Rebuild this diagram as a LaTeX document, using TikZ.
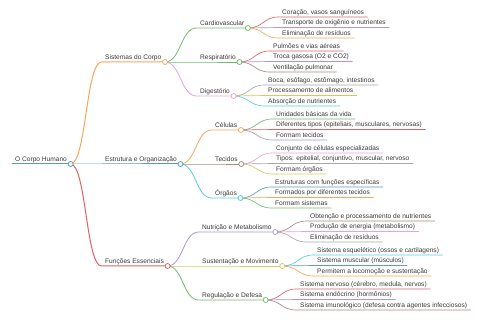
\documentclass[tikz,border=0pt]{standalone}
\usepackage{fontspec}
\setmainfont{Liberation Sans}
\usetikzlibrary{calc}
\pgfdeclarelayer{bg}
\pgfsetlayers{bg,main}
\definecolor{cblue}{HTML}{5A9BCB}
\definecolor{corange}{HTML}{F8A65C}
\definecolor{cgreen}{HTML}{6DBE6D}
\definecolor{cred}{HTML}{DD6465}
\definecolor{cpurple}{HTML}{AC97D2}
\definecolor{cbrown}{HTML}{AB8780}
\definecolor{cpink}{HTML}{EBA2D5}
\definecolor{cgray}{HTML}{A8A8A8}
\definecolor{colive}{HTML}{CDCE5E}
\definecolor{ccyan}{HTML}{57CFDC}
\definecolor{txt}{HTML}{3A3A3A}
\begin{document}
\begin{tikzpicture}[x=1pt,y=-1pt,
  lbl/.style={anchor=south west, inner xsep=3.5pt, inner ysep=0.8pt, text height=4.8pt, text depth=1.5pt, font=\fontsize{6.6}{7.5}\selectfont, text=txt},
  dot/.style={circle, draw=#1, fill=white, line width=0.75pt, minimum size=5pt, inner sep=0pt},
  lA/.style={draw=#1, line width=1pt},
  lB/.style={draw=#1, line width=0.8pt},
  lC/.style={draw=#1, line width=0.65pt},
  link/.style={to path={let \p1=(\tikztostart), \p2=(\tikztotarget), \n1={(\x2-\x1)/2} in .. controls +(\n1,0) and +(-\n1,0) .. (\tikztotarget)}}
]
\useasboundingbox (0,0) rectangle (480,320);

% root and level 1
\node[lbl] (root) at (11.5,164) {O Corpo Humano};
\node[lbl] (s) at (101.5,62) {Sistemas do Corpo};
\node[lbl] (e) at (101.5,164) {Estrutura e Organização};
\node[lbl] (f) at (101.5,266) {Funções Essenciais};

% level 2
\node[lbl] (s1) at (196.5,28) {Cardiovascular};
\node[lbl] (s2) at (196.5,62) {Respiratório};
\node[lbl] (s3) at (196.5,96) {Digestório};
\node[lbl] (e1) at (211.5,130) {Células};
\node[lbl] (e2) at (211.5,164) {Tecidos};
\node[lbl] (e3) at (211.5,198) {Órgãos};
\node[lbl] (f1) at (198.5,232) {Nutrição e Metabolismo};
\node[lbl] (f2) at (198.5,266) {Sustentação e Movimento};
\node[lbl] (f3) at (198.5,300) {Regulação e Defesa};

% leaves
\node[lbl] (s1a) at (278.5,17) {Coração, vasos sanguíneos};
\node[lbl] (s1b) at (278.5,27.5) {Transporte de oxigênio e nutrientes};
\node[lbl] (s1c) at (278.5,38) {Eliminação de resíduos};
\node[lbl] (s2a) at (269.5,51) {Pulmões e vias aéreas};
\node[lbl] (s2b) at (269.5,61.5) {Troca gasosa (O2 e CO2)};
\node[lbl] (s2c) at (269.5,72) {Ventilação pulmonar};
\node[lbl] (s3a) at (264.5,85) {Boca, esôfago, estômago, intestinos};
\node[lbl] (s3b) at (264.5,95.5) {Processamento de alimentos};
\node[lbl] (s3c) at (264.5,106) {Absorção de nutrientes};
\node[lbl] (e1a) at (272.5,119) {Unidades básicas da vida};
\node[lbl] (e1b) at (272.5,129.5) {Diferentes tipos (epiteliais, musculares, nervosas)};
\node[lbl] (e1c) at (272.5,140) {Formam tecidos};
\node[lbl] (e2a) at (272.5,153) {Conjunto de células especializadas};
\node[lbl] (e2b) at (272.5,163.5) {Tipos: epitelial, conjuntivo, muscular, nervoso};
\node[lbl] (e2c) at (272.5,174) {Formam órgãos};
\node[lbl] (e3a) at (271.5,187) {Estruturas com funções específicas};
\node[lbl] (e3b) at (271.5,197.5) {Formados por diferentes tecidos};
\node[lbl] (e3c) at (271.5,208) {Formam sistemas};
\node[lbl] (f1a) at (306.5,221) {Obtenção e processamento de nutrientes};
\node[lbl] (f1b) at (306.5,231.5) {Produção de energia (metabolismo)};
\node[lbl] (f1c) at (306.5,242) {Eliminação de resíduos};
\node[lbl] (f2a) at (313.5,255) {Sistema esquelético (ossos e cartilagens)};
\node[lbl] (f2b) at (313.5,265.5) {Sistema muscular (músculos)};
\node[lbl] (f2c) at (313.5,276) {Permitem a locomoção e sustentação};
\node[lbl] (f3a) at (296.5,289) {Sistema nervoso (cérebro, medula, nervos)};
\node[lbl] (f3b) at (296.5,299.5) {Sistema endócrino (hormônios)};
\node[lbl] (f3c) at (296.5,310) {Sistema imunológico (defesa contra agentes infecciosos)};

% circles
\node[dot=cblue] (root-c) at (root.south east) {};
\node[dot=corange] (s-c) at (s.south east) {};
\node[dot=cblue] (e-c) at (e.south east) {};
\node[dot=cred] (f-c) at (f.south east) {};
\node[dot=cgreen] (s1-c) at (s1.south east) {};
\node[dot=cgreen] (s2-c) at (s2.south east) {};
\node[dot=cpink] (s3-c) at (s3.south east) {};
\node[dot=corange] (e1-c) at (e1.south east) {};
\node[dot=cbrown] (e2-c) at (e2.south east) {};
\node[dot=ccyan] (e3-c) at (e3.south east) {};
\node[dot=cpurple] (f1-c) at (f1.south east) {};
\node[dot=colive] (f2-c) at (f2.south east) {};
\node[dot=cgreen] (f3-c) at (f3.south east) {};

\begin{pgfonlayer}{bg}
\fill[white] (0,0) rectangle (480,320);
% root
\draw[lA=cblue] (root.south west) -- (root.south east);
% level 1
\draw[lA=corange] (root-c.center) to[link] (s.south west) -- (s.south east);
\draw[lA=cblue] (root-c.center) to[link] (e.south west) -- (e.south east);
\draw[lA=cred] (root-c.center) to[link] (f.south west) -- (f.south east);
% level 2
\draw[lB=cgreen] (s-c.center) to[link] (s1.south west) -- (s1.south east);
\draw[lB=cgreen] (s-c.center) to[link] (s2.south west) -- (s2.south east);
\draw[lB=cpink] (s-c.center) to[link] (s3.south west) -- (s3.south east);
\draw[lB=corange] (e-c.center) to[link] (e1.south west) -- (e1.south east);
\draw[lB=cbrown] (e-c.center) to[link] (e2.south west) -- (e2.south east);
\draw[lB=ccyan] (e-c.center) to[link] (e3.south west) -- (e3.south east);
\draw[lB=cpurple] (f-c.center) to[link] (f1.south west) -- (f1.south east);
\draw[lB=colive] (f-c.center) to[link] (f2.south west) -- (f2.south east);
\draw[lB=cgreen] (f-c.center) to[link] (f3.south west) -- (f3.south east);
% leaves
\draw[lC=cred] (s1-c.center) to[link] (s1a.south west) -- (s1a.south east);
\draw[lC=cpurple] (s1-c.center) to[link] (s1b.south west) -- (s1b.south east);
\draw[lC=corange] (s1-c.center) to[link] (s1c.south west) -- (s1c.south east);
\draw[lC=cred] (s2-c.center) to[link] (s2a.south west) -- (s2a.south east);
\draw[lC=cpurple] (s2-c.center) to[link] (s2b.south west) -- (s2b.south east);
\draw[lC=cbrown] (s2-c.center) to[link] (s2c.south west) -- (s2c.south east);
\draw[lC=cgray] (s3-c.center) to[link] (s3a.south west) -- (s3a.south east);
\draw[lC=colive] (s3-c.center) to[link] (s3b.south west) -- (s3b.south east);
\draw[lC=ccyan] (s3-c.center) to[link] (s3c.south west) -- (s3c.south east);
\draw[lC=cgreen] (e1-c.center) to[link] (e1a.south west) -- (e1a.south east);
\draw[lC=cred] (e1-c.center) to[link] (e1b.south west) -- (e1b.south east);
\draw[lC=cpurple] (e1-c.center) to[link] (e1c.south west) -- (e1c.south east);
\draw[lC=cpink] (e2-c.center) to[link] (e2a.south west) -- (e2a.south east);
\draw[lC=cgray] (e2-c.center) to[link] (e2b.south west) -- (e2b.south east);
\draw[lC=colive] (e2-c.center) to[link] (e2c.south west) -- (e2c.south east);
\draw[lC=cblue] (e3-c.center) to[link] (e3a.south west) -- (e3a.south east);
\draw[lC=corange] (e3-c.center) to[link] (e3b.south west) -- (e3b.south east);
\draw[lC=cgreen] (e3-c.center) to[link] (e3c.south west) -- (e3c.south east);
\draw[lC=cbrown] (f1-c.center) to[link] (f1a.south west) -- (f1a.south east);
\draw[lC=cpink] (f1-c.center) to[link] (f1b.south west) -- (f1b.south east);
\draw[lC=cgray] (f1-c.center) to[link] (f1c.south west) -- (f1c.south east);
\draw[lC=ccyan] (f2-c.center) to[link] (f2a.south west) -- (f2a.south east);
\draw[lC=cblue] (f2-c.center) to[link] (f2b.south west) -- (f2b.south east);
\draw[lC=corange] (f2-c.center) to[link] (f2c.south west) -- (f2c.south east);
\draw[lC=cred] (f3-c.center) to[link] (f3a.south west) -- (f3a.south east);
\draw[lC=cpurple] (f3-c.center) to[link] (f3b.south west) -- (f3b.south east);
\draw[lC=cbrown] (f3-c.center) to[link] (f3c.south west) -- (f3c.south east);
\end{pgfonlayer}
\end{tikzpicture}
\end{document}
